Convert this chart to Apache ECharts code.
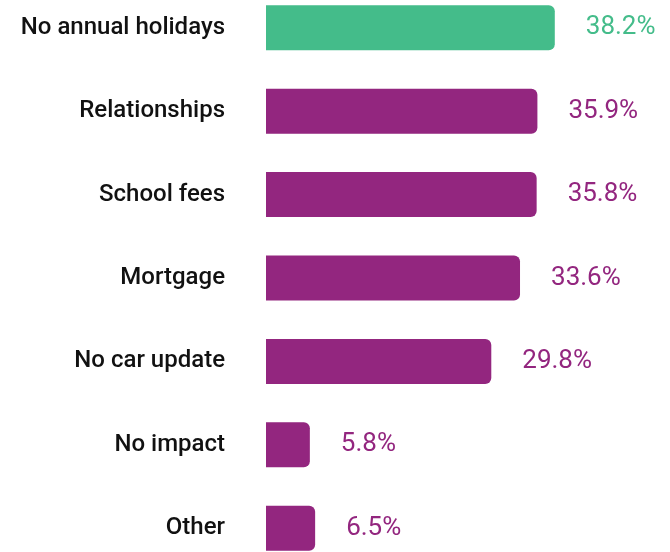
<!DOCTYPE html>
<html>
<head>
<meta charset="utf-8">
<script src="https://cdn.jsdelivr.net/npm/echarts@6/dist/echarts.min.js"></script>
<style>
html,body{margin:0;padding:0;background:#fff;}
#chart{width:670px;height:552px;}
</style>
</head>
<body>
<div id="chart"></div>
<script>
var categories = ["No annual holidays", "Relationships", "School fees", "Mortgage", "No car update", "No impact", "Other"];
var values = [38.2, 35.9, 35.8, 33.6, 29.8, 5.8, 6.5];
var highlightIndex = 0;

var GREEN = "#44BC8A";
var PURPLE = "#93267F";

var chart = echarts.init(document.getElementById('chart'), null, {renderer: 'canvas'});
chart.setOption({
  animation: false,
  backgroundColor: '#ffffff',
  grid: {left: 266, top: -14, width: 378, height: 584, containLabel: false, outerBoundsMode: 'none'},
  xAxis: {
    type: 'value', min: 0, max: 50,
    show: false
  },
  yAxis: {
    type: 'category',
    data: categories,
    inverse: true,
    axisLine: {show: false},
    axisTick: {show: false},
    splitLine: {show: false},
    axisLabel: {
      margin: 41,
      color: '#111111',
      fontFamily: 'Roboto',
      fontWeight: 500,
      fontSize: 24,
      padding: [5, 0, 0, 0]
    }
  },
  series: [{
    type: 'bar',
    barWidth: 45,
    data: values.map(function (v, i) {
      var c = i === highlightIndex ? GREEN : PURPLE;
      return {
        value: v,
        itemStyle: {color: c, borderRadius: [0, 6, 6, 0]},
        label: {color: c}
      };
    }),
    label: {
      show: true,
      position: 'right',
      distance: 31,
      fontFamily: 'Roboto',
      fontWeight: 400,
      fontSize: 26,
      padding: [4, 0, 0, 0],
      formatter: function (p) { return p.value.toFixed(1) + '%'; }
    }
  }]
});
</script>
</body>
</html>
